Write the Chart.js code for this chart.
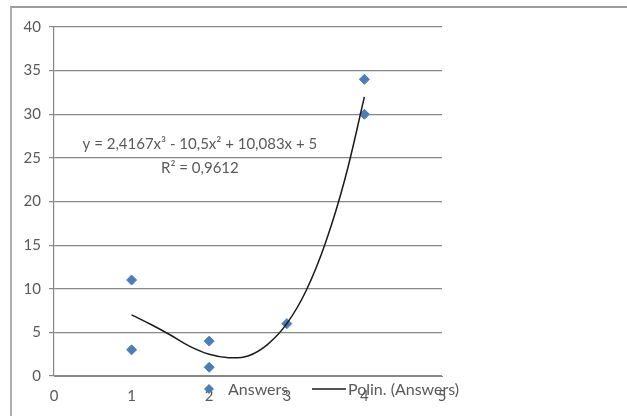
<!DOCTYPE html>
<html lang="en">
<head>
  <meta charset="UTF-8" />
  <title>Answers - polynomial trend</title>
  <script src="https://cdn.jsdelivr.net/npm/chart.js"></script>
  <style>
    body {
      margin: 0;
      background: white;
    }
    #wrap {
      position: relative;
      width: 627px;
      height: 416px;
    }
    #frame {
      position: absolute;
      left: 10px;
      top: 6px;
      right: 0;
      bottom: 0;
      border-top: 2px solid #9c9c9c;
      border-left: 2px solid #b0b0b0;
    }
    canvas {
      position: absolute;
      left: 0;
      top: 0;
    }
  </style>
</head>
<body>
  <div id="wrap">
    <div id="frame"></div>
    <canvas id="answersChart" width="627" height="416"></canvas>
  </div>

  <script>
    // observed answers (x, y)
    const answerX = [1, 1, 2, 2, 3, 4, 4];
    const answerY = [11, 3, 4, 1, 6, 34, 30];

    // trend line
    const trendX = [1, 1.25, 1.5, 1.75, 2, 2.25, 2.5, 2.75, 3, 3.25, 3.5, 3.75, 4];
    const trendY = [7, 5.9, 4.7, 3.4, 2.5, 2.1, 2.3, 3.6, 6, 9.8, 15.3, 22.6, 32];

    const yTicks = [0, 5, 10, 15, 20, 25, 30, 35, 40];
    const xTicks = [0, 1, 2, 3, 4, 5];

    const equationText = "y = 2,4167x\u00B3 - 10,5x\u00B2 + 10,083x + 5";
    const r2Text = "R\u00B2 = 0,9612";

    const blue = "#4a7ebb";
    const gray = "#878787";
    const textColor = "#595959";
    const font = "Lato, 'Open Sans', sans-serif";

    // equation label + Excel style legend drawn on top
    const extras = {
      id: "extras",
      afterDraw(chart) {
        const ctx = chart.ctx;
        const xs = chart.scales.x;
        const ys = chart.scales.y;
        ctx.save();
        ctx.font = "15px " + font;
        ctx.fillStyle = textColor;
        ctx.textAlign = "center";
        ctx.textBaseline = "middle";
        ctx.fillText(equationText, xs.getPixelForValue(1.88), ys.getPixelForValue(26.6));
        ctx.fillText(r2Text, xs.getPixelForValue(1.88), ys.getPixelForValue(23.8));

        // legend
        const ly = 389;
        const dx = 209;
        ctx.fillStyle = blue;
        ctx.beginPath();
        ctx.moveTo(dx, ly - 5);
        ctx.lineTo(dx + 5, ly);
        ctx.lineTo(dx, ly + 5);
        ctx.lineTo(dx - 5, ly);
        ctx.closePath();
        ctx.fill();

        ctx.font = "16px " + font;
        ctx.fillStyle = textColor;
        ctx.textAlign = "left";
        ctx.fillText("Answers", 228, ly + 1);

        ctx.strokeStyle = "#1a1a1a";
        ctx.lineWidth = 1.5;
        ctx.beginPath();
        ctx.moveTo(312, ly);
        ctx.lineTo(346, ly);
        ctx.stroke();
        ctx.fillText("Polin. (Answers)", 348, ly + 1);
        ctx.restore();
      }
    };

    const ctx = document.getElementById("answersChart").getContext("2d");
    new Chart(ctx, {
      type: "scatter",
      data: {
        datasets: [{
          label: "Answers",
          data: answerX.map((x, i) => ({ x: x, y: answerY[i] })),
          backgroundColor: blue,
          borderColor: blue,
          pointStyle: "rectRot",
          pointRadius: 5,
          order: 2
        }, {
          label: "Polin. (Answers)",
          data: trendX.map((x, i) => ({ x: x, y: trendY[i] })),
          showLine: true,
          borderColor: "#1a1a1a",
          borderWidth: 1.5,
          pointRadius: 0,
          tension: 0.4,
          fill: false,
          order: 1
        }]
      },
      options: {
        responsive: false,
        animation: false,
        layout: {
          padding: { top: 27, right: 185, left: 0, bottom: 0 }
        },
        plugins: {
          legend: { display: false },
          tooltip: { enabled: false }
        },
        scales: {
          x: {
            type: "linear",
            min: 0,
            max: 5,
            afterBuildTicks: s => { s.ticks = xTicks.map(v => ({ value: v })); },
            afterFit: s => { s.height = 40; },
            grid: { display: false },
            border: { display: true, color: gray, width: 1 },
            ticks: {
              color: textColor,
              font: { family: font, size: 15 },
              padding: 3
            }
          },
          y: {
            min: 0,
            max: 40,
            afterBuildTicks: s => { s.ticks = yTicks.map(v => ({ value: v })); },
            afterFit: s => { s.width = 54; },
            grid: {
              color: gray,
              lineWidth: 1.2,
              drawTicks: true,
              tickLength: 5
            },
            border: { display: true, color: gray, width: 1.2 },
            ticks: {
              color: textColor,
              font: { family: font, size: 15 },
              padding: 8
            }
          }
        }
      },
      plugins: [extras]
    });
  </script>
</body>
</html>
